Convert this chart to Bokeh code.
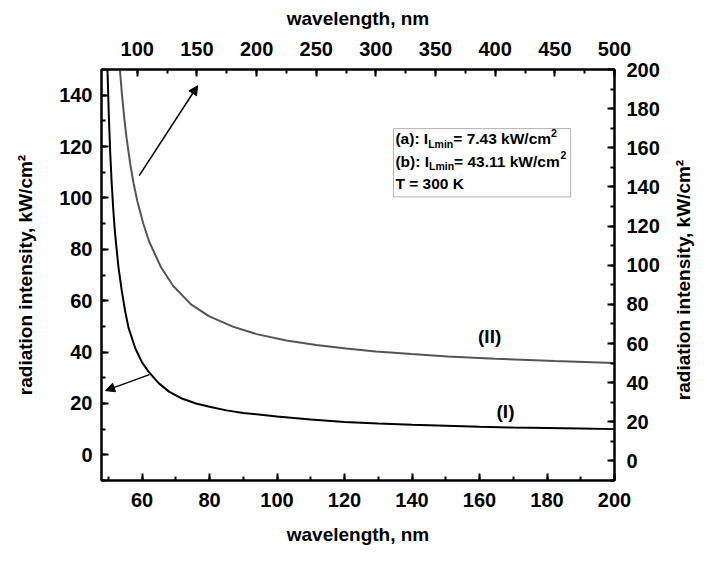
import math
from bokeh.plotting import figure
from bokeh.layouts import row
from bokeh.models import (Range1d, LinearAxis, SingleIntervalTicker, Arrow,
                          NormalHead, Label, BoxAnnotation, Div)
from bokeh.embed import file_html
from bokeh.resources import INLINE

# ---- data ----
# curve (I): bottom wavelength axis (nm) vs left intensity axis (kW/cm^2)
wl_I = [49.8, 50.2, 50.6, 51.0, 51.5, 52, 53, 54, 55, 56, 58, 60, 62, 65, 68,
        72, 76, 80, 85, 90, 100, 110, 120, 130, 140, 150, 160, 170, 180, 190, 200]
int_I = [148.5, 130.9, 117.1, 106.2, 95.2, 86.4, 73.3, 63.9, 56.0, 49.5, 41.5,
         36.0, 32.3, 27.8, 24.6, 21.8, 20.0, 18.7, 17.3, 16.3, 14.9, 13.7, 12.8,
         12.2, 11.7, 11.3, 10.9, 10.6, 10.4, 10.2, 10.0]
# curve (II): top wavelength axis (nm) vs right intensity axis (kW/cm^2)
wl_II = [85.5, 87, 89, 91, 94, 97, 100, 105, 110, 120, 130, 145, 160, 180, 200,
         225, 250, 275, 300, 330, 360, 400, 450, 500]
int_II = [199.5, 188.3, 175.7, 165.1, 152.0, 141.5, 132.8, 121.3, 112.0, 98.8,
          89.5, 80.0, 74.0, 68.6, 64.8, 61.5, 59.2, 57.4, 55.9, 54.6, 53.4, 52.2,
          51.1, 50.1]

x_title = "wavelength, nm"
y_title = "radiation intensity, kW/cm\u00b2"
legend_lines = [("(a): I", "Lmin", "= 7.43 kW/cm", "2"),
                ("(b): I", "Lmin", "= 43.11 kW/cm", "2"),
                ("T = 300 K", "", "", "")]

FONT = "Liberation Sans"
GRAY = "#555555"

TOTAL_W, H = 691, 547
SIDE_W = 25  # strip that carries the right-hand axis title

p = figure(width=TOTAL_W - SIDE_W, height=H, output_backend="svg",
           toolbar_location=None,
           x_range=Range1d(48, 200), y_range=Range1d(-10, 150),
           min_border_left=101, min_border_right=77 - SIDE_W, min_border_top=69,
           min_border_bottom=66, x_axis_location=None, y_axis_location=None)
p.extra_x_ranges = {"top": Range1d(70, 500)}
p.extra_y_ranges = {"right": Range1d(-10, 200)}
p.xgrid.visible = False
p.ygrid.visible = False
p.outline_line_color = "black"
p.outline_line_width = 2
p.background_fill_color = "white"
p.border_fill_color = "white"


def style(ax, standoff, title_standoff):
    ax.axis_line_width = 2
    ax.axis_line_color = "black"
    ax.major_tick_in = 7
    ax.major_tick_out = 0
    ax.minor_tick_in = 4
    ax.minor_tick_out = 0
    ax.major_tick_line_width = 2
    ax.minor_tick_line_width = 2
    ax.major_tick_line_color = "black"
    ax.minor_tick_line_color = "black"
    ax.major_label_text_font = FONT
    ax.major_label_text_font_style = "bold"
    ax.major_label_text_font_size = "20px"
    ax.major_label_text_color = "black"
    ax.major_label_standoff = standoff
    ax.axis_label_text_font = FONT
    ax.axis_label_text_font_style = "bold"
    ax.axis_label_text_font_size = "19px"
    ax.axis_label_text_color = "black"
    ax.axis_label_standoff = title_standoff


bottom = LinearAxis(axis_label=x_title,
                    ticker=SingleIntervalTicker(interval=20, num_minor_ticks=2))
style(bottom, 12, 14)
p.add_layout(bottom, "below")

left = LinearAxis(axis_label=y_title,
                  ticker=SingleIntervalTicker(interval=20, num_minor_ticks=2))
style(left, 9, 20)
p.add_layout(left, "left")

top = LinearAxis(axis_label=x_title, x_range_name="top",
                 ticker=SingleIntervalTicker(interval=50, num_minor_ticks=2))
style(top, 14, 10)
p.add_layout(top, "above")

right = LinearAxis(y_range_name="right",
                   ticker=SingleIntervalTicker(interval=20, num_minor_ticks=2))
style(right, 12, 8)
p.add_layout(right, "right")

p.line(wl_I, int_I, line_color="black", line_width=2)
p.line(wl_II, int_II, line_color=GRAY, line_width=2,
       x_range_name="top", y_range_name="right")

p.add_layout(Arrow(x_start=62.2, y_start=31.2, x_end=49.2, y_end=25,
                   line_width=1.5, line_color="black",
                   end=NormalHead(size=9, fill_color="black", line_color="black")))
p.add_layout(Arrow(x_start=101.6, y_start=145.8, x_end=150.6, y_end=191.7,
                   x_range_name="top", y_range_name="right",
                   line_width=1.5, line_color="black",
                   end=NormalHead(size=9, fill_color="black", line_color="black")))

for txt, x, y in [("(I)", 167.7, 16.9), ("(II)", 163.0, 45.9)]:
    p.add_layout(Label(x=x, y=y, text=txt, text_font=FONT, text_font_style="bold",
                       text_font_size="19px", text_color="black",
                       text_align="center", text_baseline="middle"))

p.add_layout(BoxAnnotation(left=134.5, right=187, top=127, bottom=100.4,
                           fill_color="white", fill_alpha=1.0,
                           line_color="black", line_width=1))

W = {"(": 333, "a": 556, ")": 333, ":": 333, " ": 278, "I": 278, "L": 611,
     "m": 889, "i": 278, "n": 611, "=": 584, "7": 556, ".": 278, "4": 556,
     "3": 556, "k": 556, "W": 944, "/": 278, "c": 556, "2": 556, "b": 611,
     "1": 556, "T": 611, "0": 556, "K": 722}


def width(s, size):
    return sum(W.get(ch, 556) for ch in s) * size / 1000.0


MAIN, SUB = 15.5, 10.5
for (a, sub, b, sup), y in zip(legend_lines, [123.0, 114.3, 105.6]):
    off = 0.0
    for piece, size, dy in [(a, MAIN, 0), (sub, SUB, -5), (b, MAIN, 0), (sup, SUB, 6)]:
        if not piece:
            continue
        p.add_layout(Label(x=135.1, y=y, x_offset=off, y_offset=dy, text=piece,
                           text_font=FONT, text_font_style="bold",
                           text_font_size=f"{size}px", text_color="black",
                           text_align="left", text_baseline="middle"))
        off += width(piece, size)

# right-hand axis title, reading bottom-to-top like the left one
frame_mid = 69 + (H - 69 - 66) / 2
side = Div(width=SIDE_W, height=H,
           styles={"position": "relative", "overflow": "visible",
                   "background-color": "white"},
           text=(f'<div style="position:absolute; left:{SIDE_W / 2 - 1}px; '
                 f'top:{frame_mid}px; transform:translate(-50%,-50%) rotate(-90deg); '
                 f"white-space:nowrap; font-family:'{FONT}'; font-weight:bold; "
                 f'font-size:19px; color:black; line-height:1;">{y_title}</div>'))

layout = row(p, side, spacing=0)
open("out.html", "w").write(file_html(layout, INLINE))
